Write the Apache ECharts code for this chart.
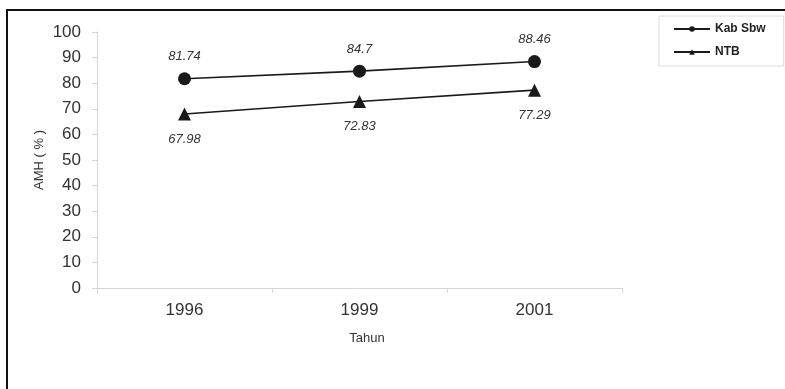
<!DOCTYPE html>
<html>
<head>
<meta charset="utf-8">
<script src="https://cdn.jsdelivr.net/npm/echarts@6/dist/echarts.min.js"></script>
<style>
  html, body { margin: 0; padding: 0; background: #ffffff; }
  #chart { width: 785px; height: 389px; }
</style>
</head>
<body>
<div id="chart"></div>
<script>
// Years on the horizontal axis
const years = ['1996', '1999', '2001'];
// AMH (%) per region
const kabSbw = [81.74, 84.7, 88.46];
const ntb = [67.98, 72.83, 77.29];
// Vertical axis range
const yMin = 0;
const yMax = 100;
const yStep = 10;

const font = 'Arial, "Liberation Sans", sans-serif';
const axisGray = '#d6d6d6';
const lineColor = '#1a1a1a';

const chart = echarts.init(document.getElementById('chart'), null, { renderer: 'canvas' });

chart.setOption({
  backgroundColor: '#ffffff',
  animation: false,
  graphic: [{
    type: 'rect',
    shape: { x: 7, y: 10, width: 820, height: 420 },
    style: { fill: 'none', stroke: '#111', lineWidth: 2 },
    z: 0
  }],
  grid: { left: 97, right: 163, top: 32, bottom: 101 },
  legend: {
    left: 659, top: 16, width: 124,
    orient: 'vertical',
    backgroundColor: '#ffffff',
    borderColor: '#dcdcdc',
    borderWidth: 1,
    padding: [7, 18, 8, 14],
    itemWidth: 36,
    itemHeight: 7,
    itemGap: 11,
    textStyle: { fontFamily: font, fontSize: 12, fontWeight: 'bold', color: '#222' },
    data: ['Kab Sbw', 'NTB']
  },
  xAxis: {
    type: 'category',
    data: years,
    boundaryGap: true,
    name: 'Tahun',
    nameLocation: 'middle',
    nameGap: 44,
    nameTextStyle: { fontFamily: font, fontSize: 13, color: '#333', padding: [0, 0, 0, 15] },
    axisLine: { lineStyle: { color: axisGray, width: 1 } },
    axisTick: { show: true, length: 5, lineStyle: { color: axisGray } },
    axisLabel: { fontFamily: font, fontSize: 17, color: '#333', margin: 14 },
    splitLine: { show: false }
  },
  yAxis: {
    type: 'value',
    min: yMin, max: yMax, interval: yStep,
    name: 'AMH ( % )',
    nameLocation: 'middle',
    nameGap: 51,
    nameMoveOverlap: false,
    nameRotate: 90,
    nameTextStyle: { fontFamily: font, fontSize: 13, color: '#333' },
    axisLine: { show: true, lineStyle: { color: axisGray, width: 1 } },
    axisTick: { show: true, length: 5, lineStyle: { color: axisGray } },
    axisLabel: { fontFamily: font, fontSize: 17, color: '#333', margin: 16 },
    splitLine: { show: false }
  },
  series: [
    {
      name: 'Kab Sbw',
      type: 'line',
      data: kabSbw,
      symbol: 'circle',
      symbolSize: 13,
      itemStyle: { color: lineColor },
      lineStyle: { color: lineColor, width: 1.6 },
      label: {
        show: true, position: 'top', distance: 9,
        fontFamily: font, fontSize: 13, fontStyle: 'italic', color: '#333'
      }
    },
    {
      name: 'NTB',
      type: 'line',
      data: ntb,
      symbol: 'triangle',
      symbolSize: 13,
      itemStyle: { color: lineColor },
      lineStyle: { color: lineColor, width: 1.6 },
      label: {
        show: true, position: 'bottom', distance: 12,
        fontFamily: font, fontSize: 13, fontStyle: 'italic', color: '#333'
      }
    }
  ]
});
</script>
</body>
</html>
